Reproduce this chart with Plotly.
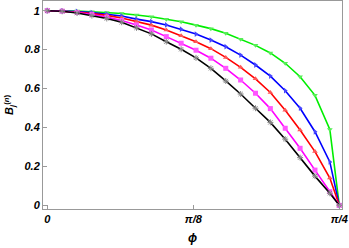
import numpy as np
import plotly.graph_objects as go

phi = [0.00, 0.04, 0.08, 0.12, 0.16, 0.20, 0.24, 0.28, 0.32, 0.36,
       0.40, 0.44, 0.48, 0.52, 0.56, 0.60, 0.64, 0.68, 0.72, 0.76, np.pi / 4]

green = [1.0, 1.0, 0.998, 0.995, 0.991, 0.986, 0.978, 0.969, 0.956, 0.943,
         0.926, 0.908, 0.884, 0.853, 0.822, 0.783, 0.730, 0.661, 0.565, 0.390, 0.0]
blue = [1.0, 0.999, 0.996, 0.990, 0.983, 0.973, 0.957, 0.944, 0.927, 0.905,
        0.880, 0.849, 0.815, 0.772, 0.721, 0.664, 0.589, 0.499, 0.378, 0.223, 0.0]
red = [1.0, 0.998, 0.993, 0.985, 0.976, 0.963, 0.945, 0.926, 0.901, 0.872,
       0.840, 0.805, 0.760, 0.709, 0.650, 0.580, 0.488, 0.387, 0.276, 0.140, 0.0]
magenta = [1.0, 0.998, 0.991, 0.981, 0.967, 0.950, 0.927, 0.901, 0.867, 0.833,
           0.797, 0.756, 0.704, 0.644, 0.576, 0.497, 0.396, 0.293, 0.181, 0.070, 0.0]
black = [1.0, 0.997, 0.988, 0.975, 0.960, 0.941, 0.912, 0.881, 0.841, 0.802,
         0.758, 0.704, 0.639, 0.572, 0.499, 0.426, 0.340, 0.245, 0.150, 0.062, 0.0]

x_tickvals = [0, np.pi / 8, np.pi / 4]
x_ticktext = ["0", "π/8", "π/4"]
y_tickvals = [0, 0.2, 0.4, 0.6, 0.8, 1]
y_ticktext = ["0", "0.2", "0.4", "0.6", "0.8", "1"]

series = [
    (green, "#00ee00", "#55ee55", "triangle-down"),
    (blue, "#0000ff", "#4444ff", "triangle-right"),
    (red, "#ff0000", "#ff5555", "triangle-up"),
    (magenta, "#ff00ff", "#ff55ff", "square"),
    (black, "#000000", "#888888", "asterisk-open"),
]

fig = go.Figure()
for ys, col, mcol, sym in series:
    mk = dict(symbol=sym, size=5, color=mcol)
    if sym == "asterisk-open":
        mk = dict(symbol=sym, size=5, color=mcol, line=dict(width=1, color=mcol))
    fig.add_trace(go.Scatter(x=phi, y=ys, mode="lines+markers",
                             line=dict(color=col, width=1.6), marker=mk,
                             showlegend=False, cliponaxis=False))

font = dict(family="Liberation Sans, Arial, sans-serif", size=11, color="black")
fig.update_layout(
    width=349, height=248,
    margin=dict(l=43, r=7, t=1, b=39, autoexpand=False),
    paper_bgcolor="white", plot_bgcolor="white",
    font=font,
    xaxis=dict(range=[-0.0116, 0.7927], tickvals=x_tickvals,
               ticktext=["<b><i>%s</i></b>" % t for t in x_ticktext],
               ticks="inside", ticklen=4, tickcolor="#999999",
               showline=True, linecolor="#999999", linewidth=1, mirror=True,
               showgrid=False, zeroline=False, automargin=False,
               title=dict(text="<b><i>ϕ</i></b>", standoff=9, font=dict(size=12))),
    yaxis=dict(range=[-0.019, 1.05], tickvals=y_tickvals,
               ticktext=["<b><i>%s</i></b>" % t for t in y_ticktext],
               ticks="inside", ticklen=4, tickcolor="#999999",
               showline=True, linecolor="#999999", linewidth=1, mirror=True,
               showgrid=False, zeroline=False, automargin=False,
               title=dict(text="<b><i>B</i><sub><i>j</i></sub><sup>(<i>n</i>)</sup></b>",
                          standoff=8, font=dict(size=11))),
)
fig.write_html("out.html", config={"displayModeBar": False},
               post_script="document.body.style.margin='0px';document.body.style.overflow='hidden';")
